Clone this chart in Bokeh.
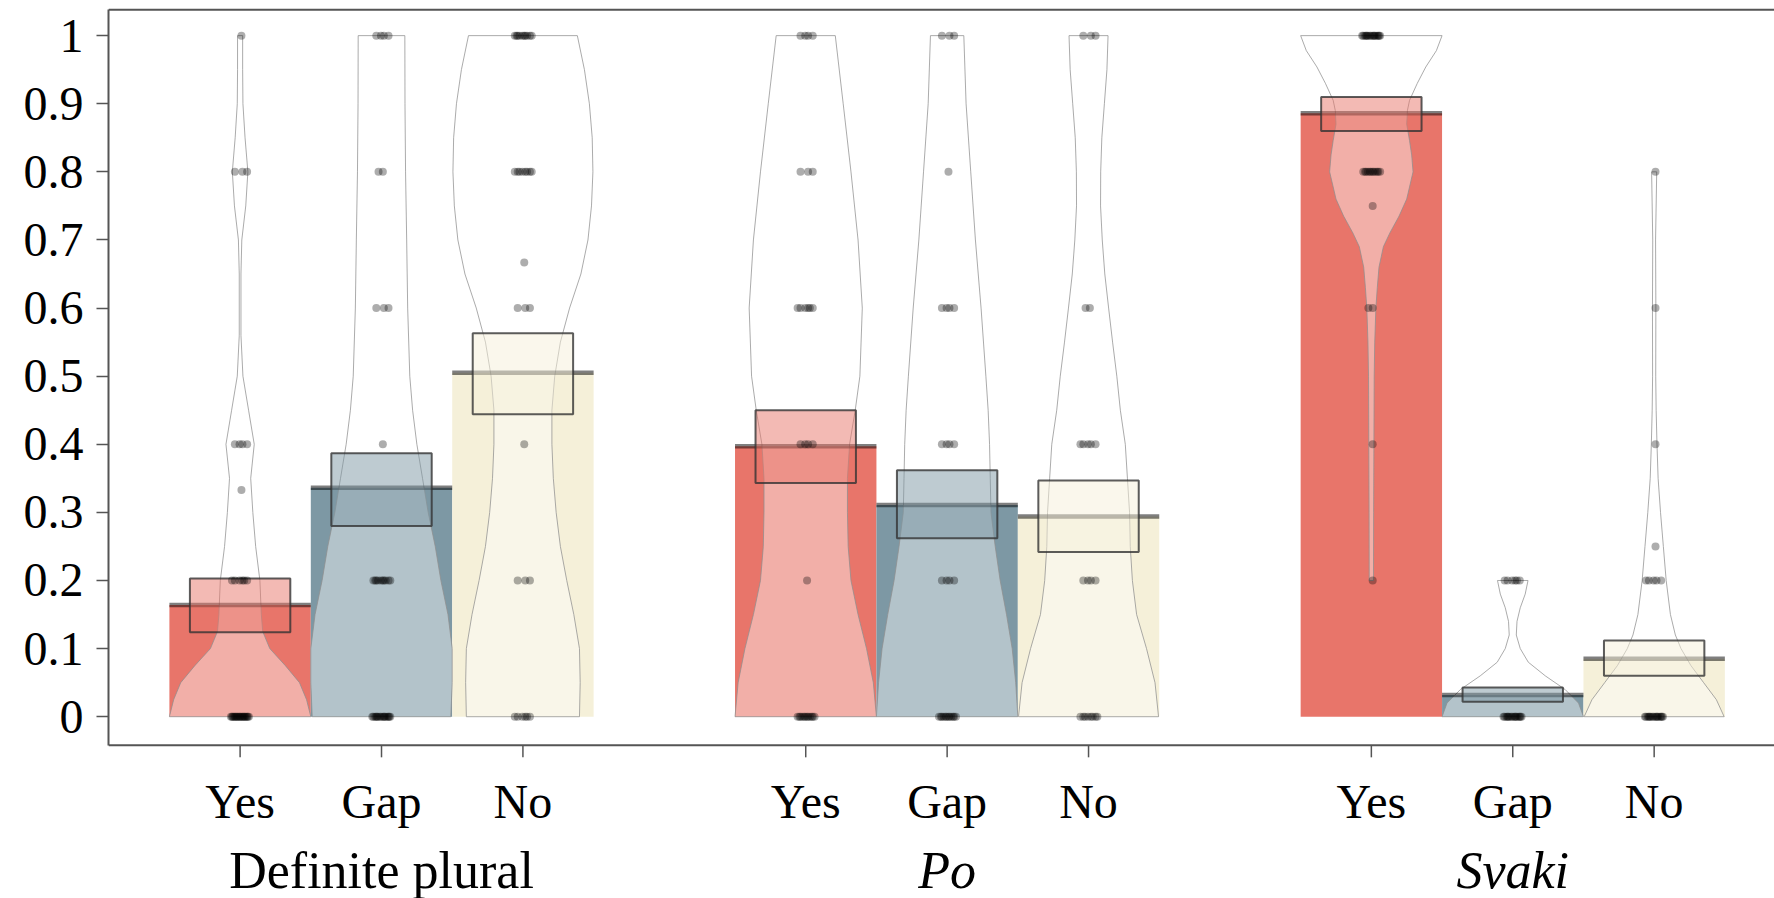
from bokeh.plotting import figure
from bokeh.models import Range1d, FixedTicker
from bokeh.core.properties import value
from bokeh.embed import file_html
from bokeh.resources import INLINE

# ---------------- data ----------------
groups = ["Definite plural", "Po", "Svaki"]
group_italic = [False, True, True]
levels = ["Yes", "Gap", "No"]
bar_colors = ["#E8756A", "#7D98A4", "#F5F0D9"]

mean_definite = [0.164, 0.336, 0.505]
mean_po = [0.397, 0.311, 0.294]
mean_svaki = [0.886, 0.032, 0.085]

band_low_definite = [0.124, 0.280, 0.444]
band_high_definite = [0.203, 0.387, 0.563]
band_low_po = [0.343, 0.262, 0.242]
band_high_po = [0.450, 0.362, 0.347]
band_low_svaki = [0.860, 0.022, 0.060]
band_high_svaki = [0.910, 0.043, 0.112]

# bean (density) outlines: y levels and half-widths
bean_def_yes_y = [0, .025, .05, .075, .1, .125, .15, .2, .25, .3, .35, .4, .45, .5, .56, .65, .7, .75, .8, .85, .9, .95, 1.0]
bean_def_yes_w = [.5, .47, .42, .32, .21, .16, .15, .14, .11, .09, .075, .1, .06, .02, .006, .006, .012, .04, .055, .035, .02, .018, .018]
bean_def_gap_y = [0, .05, .1, .15, .2, .25, .3, .35, .4, .45, .5, .6, .7, .8, .9, 1.0]
bean_def_gap_w = [.49, .5, .5, .47, .42, .38, .33, .29, .25, .22, .2, .185, .178, .17, .166, .165]
bean_def_no_y = [0, .05, .1, .15, .2, .25, .3, .35, .4, .45, .5, .55, .6, .65, .7, .75, .8, .85, .9, .95, 1.0]
bean_def_no_w = [.4, .405, .4, .36, .31, .265, .235, .215, .205, .205, .225, .265, .33, .41, .46, .485, .495, .49, .47, .435, .385]

bean_po_yes_y = [0, .05, .1, .15, .2, .25, .3, .35, .4, .45, .5, .6, .7, .8, .9, 1.0]
bean_po_yes_w = [.5, .478, .43, .37, .32, .3, .295, .295, .31, .35, .383, .4, .37, .32, .265, .209]
bean_po_gap_y = [0, .05, .1, .15, .2, .25, .3, .35, .4, .45, .5, .6, .7, .8, .9, 1.0]
bean_po_gap_w = [.5, .485, .46, .42, .375, .34, .31, .305, .3, .29, .274, .24, .2, .167, .134, .118]
bean_po_no_y = [0, .05, .1, .15, .2, .25, .3, .35, .4, .45, .5, .55, .6, .65, .7, .75, .8, .85, .9, .95, 1.0]
bean_po_no_w = [.495, .47, .41, .34, .31, .295, .29, .275, .26, .225, .2, .17, .142, .115, .097, .085, .086, .094, .112, .13, .138]

bean_sv_yes_y = [.2, .3, .4, .5, .55, .6, .63, .66, .69, .71, .735, .76, .8, .825, .846, .87, .89, .905, .93, .954, .978, 1.0]
bean_sv_yes_w = [.015, .016, .018, .02, .024, .032, .042, .054, .085, .13, .196, .25, .295, .285, .27, .25, .255, .27, .325, .385, .46, .5]
bean_sv_gap_y = [0, .02, .04, .06, .08, .1, .12, .14, .16, .18, .2]
bean_sv_gap_w = [.5, .465, .37, .23, .11, .053, .025, .03, .053, .088, .108]
bean_sv_no_y = [0, .025, .05, .075, .1, .12, .15, .2, .25, .3, .35, .4, .45, .5, .6, .7, .8]
bean_sv_no_w = [.495, .44, .35, .26, .19, .15, .115, .085, .065, .045, .028, .02, .014, .011, .012, .01, .018]

# raw responses: distinct values and how many responses at each
pts_def_yes_v = [0, 0.2, 0.333, 0.4, 0.8, 1.0]
pts_def_yes_n = [20, 6, 1, 4, 3, 1]
pts_def_gap_v = [0, 0.2, 0.4, 0.6, 0.8, 1.0]
pts_def_gap_n = [16, 10, 1, 3, 2, 4]
pts_def_no_v = [0, 0.2, 0.4, 0.6, 0.667, 0.8, 1.0]
pts_def_no_n = [6, 3, 1, 3, 1, 8, 10]
pts_po_yes_v = [0, 0.2, 0.4, 0.6, 0.8, 1.0]
pts_po_yes_n = [12, 1, 4, 6, 3, 4]
pts_po_gap_v = [0, 0.2, 0.4, 0.6, 0.8, 1.0]
pts_po_gap_n = [12, 4, 4, 4, 1, 3]
pts_po_no_v = [0, 0.2, 0.4, 0.6, 1.0]
pts_po_no_n = [8, 4, 5, 2, 3]
pts_sv_yes_v = [0.2, 0.4, 0.6, 0.75, 0.8, 1.0]
pts_sv_yes_n = [1, 1, 2, 1, 12, 16]
pts_sv_gap_v = [0, 0.2]
pts_sv_gap_n = [16, 6]
pts_sv_no_v = [0, 0.2, 0.25, 0.4, 0.6, 0.8]
pts_sv_no_n = [16, 5, 1, 1, 1, 1]

y_ticks = [0, 0.1, 0.2, 0.3, 0.4, 0.5, 0.6, 0.7, 0.8, 0.9, 1.0]
y_tick_labels = ["0", "0.1", "0.2", "0.3", "0.4", "0.5", "0.6", "0.7", "0.8", "0.9", "1"]

means = [mean_definite, mean_po, mean_svaki]
lows = [band_low_definite, band_low_po, band_low_svaki]
highs = [band_high_definite, band_high_po, band_high_svaki]
beans = [
    [(bean_def_yes_y, bean_def_yes_w), (bean_def_gap_y, bean_def_gap_w), (bean_def_no_y, bean_def_no_w)],
    [(bean_po_yes_y, bean_po_yes_w), (bean_po_gap_y, bean_po_gap_w), (bean_po_no_y, bean_po_no_w)],
    [(bean_sv_yes_y, bean_sv_yes_w), (bean_sv_gap_y, bean_sv_gap_w), (bean_sv_no_y, bean_sv_no_w)],
]
points = [
    [(pts_def_yes_v, pts_def_yes_n), (pts_def_gap_v, pts_def_gap_n), (pts_def_no_v, pts_def_no_n)],
    [(pts_po_yes_v, pts_po_yes_n), (pts_po_gap_v, pts_po_gap_n), (pts_po_no_v, pts_po_no_n)],
    [(pts_sv_yes_v, pts_sv_yes_n), (pts_sv_gap_v, pts_sv_gap_n), (pts_sv_no_v, pts_sv_no_n)],
]

# ---------------- figure ----------------
FONT = "Liberation Serif"
X0, X1 = 0.0693, 11.851
Y0, Y1 = -0.2669, 1.0413
BOX_BOTTOM, BOX_TOP = -0.042, 1.038   # plotting box (R-style 4% expansion)
PX_PER_Y = 681.1

p = figure(width=1774, height=898,
           x_range=Range1d(X0, X1), y_range=Range1d(Y0, Y1),
           output_backend="svg", toolbar_location=None,
           min_border_left=108, min_border_right=0, min_border_top=7, min_border_bottom=0)
p.outline_line_color = None
p.xgrid.visible = False
p.ygrid.visible = False
p.xaxis.visible = False
p.background_fill_color = "white"
p.border_fill_color = "white"

axis_color = "#555555"

positions = []
for g in range(3):
    for l in range(3):
        positions.append(4 * g + l + 1)

# bars
for g in range(3):
    xs = [4 * g + l + 1 for l in range(3)]
    p.vbar(x=xs, top=means[g], bottom=0, width=1.0, fill_color=bar_colors, line_color=None)

# beans
for g in range(3):
    for l in range(3):
        x = 4 * g + l + 1
        by, bw = beans[g][l]
        px = [x - w for w in bw] + [x + w for w in reversed(bw)]
        py = list(by) + list(reversed(by))
        p.patch(px, py, fill_color="white", fill_alpha=0.42,
                line_color="#8f8f8f", line_alpha=0.75, line_width=1)

# mean lines
for g in range(3):
    xs = [4 * g + l + 1 for l in range(3)]
    p.segment(x0=[x - 0.5 for x in xs], x1=[x + 0.5 for x in xs],
              y0=means[g], y1=means[g], line_color="black", line_alpha=0.5, line_width=4.5)

# inference bands
for g in range(3):
    xs = [4 * g + l + 1 for l in range(3)]
    p.quad(left=[x - 0.355 for x in xs], right=[x + 0.355 for x in xs],
           bottom=lows[g], top=highs[g], fill_color=bar_colors, fill_alpha=0.5,
           line_color="#333333", line_alpha=0.8, line_width=2)

# raw points (deterministic horizontal spread)
px_all, py_all = [], []
for g in range(3):
    for l in range(3):
        x = 4 * g + l + 1
        vals, cnts = points[g][l]
        for v, n in zip(vals, cnts):
            spread = 0.07 if n > 2 else 0.04
            for k in range(1, n + 1):
                px_all.append(x + ((k * 0.6180339887) % 1.0 - 0.5) * 2 * spread)
                py_all.append(v)
p.scatter(px_all, py_all, size=8, fill_color="black", fill_alpha=0.32, line_color=None)

# y axis (bounded to the plotting box)
p.yaxis.bounds = (BOX_BOTTOM, BOX_TOP)
p.yaxis.ticker = FixedTicker(ticks=y_ticks)
p.yaxis.major_label_overrides = {t: s for t, s in zip(y_ticks, y_tick_labels)}
p.yaxis.minor_tick_line_color = None
p.yaxis.major_tick_in = 0
p.yaxis.major_tick_out = 12
p.yaxis.major_tick_line_width = 1.5
p.yaxis.major_tick_line_color = axis_color
p.yaxis.axis_line_color = axis_color
p.yaxis.axis_line_width = 2
p.yaxis.major_label_standoff = 13
p.yaxis.major_label_text_font = FONT
p.yaxis.major_label_text_font_size = "48px"
p.yaxis.major_label_text_color = "black"

# box: top and bottom lines
p.segment(x0=[X0, X0], x1=[X1, X1], y0=[BOX_TOP, BOX_BOTTOM], y1=[BOX_TOP, BOX_BOTTOM],
          line_color=axis_color, line_width=2)

# x ticks and labels (drawn below the plotting box)
tick_len = 12 / PX_PER_Y
p.segment(x0=positions, x1=positions, y0=[BOX_BOTTOM] * len(positions),
          y1=[BOX_BOTTOM - tick_len] * len(positions), line_color=axis_color, line_width=1.5)
p.text(x=positions, y=[-0.124] * len(positions), text=levels * 3,
       text_font=value(FONT), text_font_size="48px", text_align="center",
       text_baseline="alphabetic", text_color="black")

# group labels
for g, name in enumerate(groups):
    p.text(x=[4 * g + 2], y=[-0.2265], text=[name], text_font=value(FONT),
           text_font_size="52px", text_align="center", text_baseline="alphabetic",
           text_font_style="italic" if group_italic[g] else "normal", text_color="black")

open("out.html", "w").write(file_html(p, INLINE))
